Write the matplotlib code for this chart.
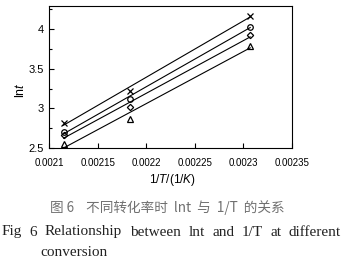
import matplotlib
matplotlib.use("Agg")
import matplotlib.pyplot as plt
import numpy as np

# 1/T values (1/K)
inv_T = [0.002115, 0.002183, 0.002307]

# ln t at different conversion
ln_t_x = [2.82, 3.22, 4.17]
ln_t_o = [2.70, 3.12, 4.03]
ln_t_d = [2.66, 3.02, 3.92]
ln_t_tri = [2.55, 2.87, 3.79]

series = [(ln_t_x, 'x'), (ln_t_o, 'o'), (ln_t_d, 'D'), (ln_t_tri, '^')]

x_ticks = [0.0021, 0.00215, 0.0022, 0.00225, 0.0023, 0.00235]
x_ticklabels = ['0.0021', '0.00215', '0.0022', '0.00225', '0.0023', '0.00235']
y_ticks = [2.5, 3, 3.5, 4]
y_ticklabels = ['2.5', '3', '3.5', '4']

W, H = 344, 262
fig = plt.figure(figsize=(W / 100, H / 100), dpi=100)
ax = fig.add_axes([49 / W, 1 - 148 / H, 243 / W, 142 / H])

x = np.array(inv_T)
for vals, m in series:
    k, b = np.polyfit(x, vals, 1)
    ax.plot(x, k * x + b, color='black', lw=0.8)
    ms = 3.2 if m == 'D' else 4
    ax.plot(x, vals, linestyle='none', marker=m, ms=ms, mfc='none', mec='black', mew=0.9)

ax.set_xlim(0.0021, 0.00235)
ax.set_ylim(2.5, 4.29)
ax.set_xticks(x_ticks)
ax.set_xticklabels(x_ticklabels, family='Liberation Sans', fontsize=7)
ax.set_yticks(y_ticks)
ax.set_yticklabels(y_ticklabels, family='Liberation Sans', fontsize=8)
ax.set_yticks([2.75, 3.25, 3.75, 4.25], minor=True)
ax.tick_params(axis='x', direction='in', length=3.5, width=0.8, pad=7)
ax.tick_params(axis='y', direction='in', length=3.5, width=0.8, pad=3.5)
ax.tick_params(axis='y', which='minor', direction='in', length=2, width=0.8)
for s in ax.spines.values():
    s.set_linewidth(0.8)

plt.rcParams['mathtext.fontset'] = 'custom'
plt.rcParams['mathtext.it'] = 'Liberation Sans:italic'
plt.rcParams['mathtext.rm'] = 'Liberation Sans'

fig.text(172 / W, 1 - 180 / H, r'1/$T$/(1/$K$)', ha='center', va='center',
         family='Liberation Sans', fontsize=8.5)
fig.text(21 / W, 1 - 90 / H, r'ln$t$', ha='center', va='center', rotation=90,
         family='Liberation Sans', fontsize=9)

# captions
fig.text(167 / W, 1 - 208 / H, '图 6    不同转化率时  lnt  与  1/T  的关系', ha='center', va='center',
         family=['Noto Sans CJK SC', 'DejaVu Sans'], fontsize=9.8, color='#707070')

words = ['Fig', '6', 'Relationship', 'between', 'lnt', 'and', '1/T', 'at', 'different']
texts = [fig.text(0, 1 - 232 / H, w, ha='left', va='center', family='Liberation Serif',
                  fontsize=11, color='#222222') for w in words]
fig.canvas.draw()
r = fig.canvas.get_renderer()
widths = [t.get_window_extent(r).width for t in texts]
x0, x1 = 2, 341
gap = (x1 - x0 - sum(widths)) / (len(words) - 1)
pos = x0
for t, wd in zip(texts, widths):
    t.set_x(pos / W)
    pos += wd + gap

fig.text(40 / W, 1 - 253 / H, 'conversion', ha='left', va='center', family='Liberation Serif',
         fontsize=11, color='#222222')

fig.savefig('out.png', dpi=100)
